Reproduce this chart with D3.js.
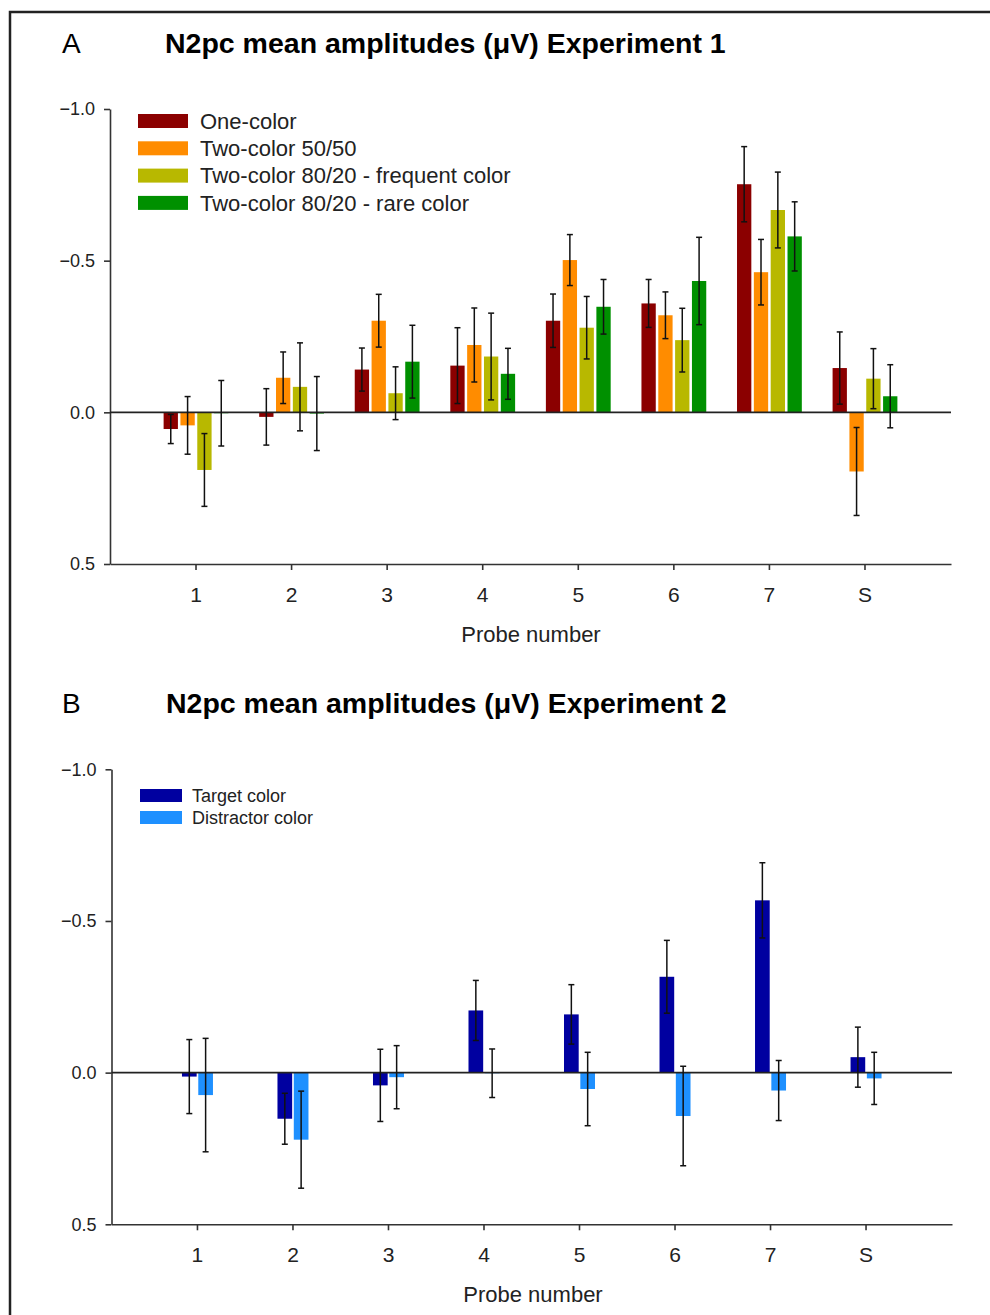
<!DOCTYPE html>
<html>
<head>
<meta charset="utf-8">
<script src="https://cdn.jsdelivr.net/npm/d3@7"></script>
<style>
  body { margin: 0; background: #fff; }
  svg { display: block; font-family: "Liberation Sans", Arial, sans-serif; }
</style>
</head>
<body>
<svg id="chart" width="990" height="1315"></svg>
<script>
// Probe categories (x axis)
var probes = ["1", "2", "3", "4", "5", "6", "7", "S"];
var yTicks = [-1.0, -0.5, 0.0, 0.5];

// Experiment 1 series
var exp1Series = ["One-color", "Two-color 50/50", "Two-color 80/20 - frequent color", "Two-color 80/20 - rare color"];
var oneColor = [0.055, 0.015, -0.141, -0.154, -0.302, -0.359, -0.752, -0.146];
var oneColorErr = [0.048, 0.093, 0.071, 0.125, 0.088, 0.079, 0.124, 0.119];
var twoColor5050 = [0.043, -0.114, -0.302, -0.222, -0.502, -0.320, -0.462, 0.195];
var twoColor5050Err = [0.095, 0.085, 0.087, 0.122, 0.084, 0.077, 0.108, 0.145];
var frequentColor = [0.190, -0.084, -0.063, -0.184, -0.279, -0.238, -0.667, -0.111];
var frequentColorErr = [0.120, 0.145, 0.087, 0.143, 0.103, 0.105, 0.125, 0.099];
var rareColor = [0.003, 0.004, -0.167, -0.127, -0.348, -0.433, -0.580, -0.053];
var rareColorErr = [0.108, 0.122, 0.120, 0.084, 0.090, 0.144, 0.114, 0.104];

// Experiment 2 series
var exp2Series = ["Target color", "Distractor color"];
var targetColor = [0.013, 0.152, 0.042, -0.205, -0.192, -0.316, -0.568, -0.051];
var targetColorErr = [0.122, 0.084, 0.119, 0.099, 0.098, 0.120, 0.124, 0.099];
var distractorColor = [0.074, 0.221, 0.015, 0.002, 0.054, 0.143, 0.059, 0.019];
var distractorColorErr = [0.187, 0.160, 0.104, 0.080, 0.121, 0.164, 0.099, 0.086];

var exp1Colors = ["#8b0000", "#ff8c00", "#b8b800", "#009000"];
var exp2Colors = ["#0000a0", "#1e90ff"];

var svg = d3.select("#chart");

// outer frame
svg.append("rect")
    .attr("x", 10).attr("y", 12)
    .attr("width", 1100).attr("height", 1400)
    .attr("fill", "none")
    .attr("stroke", "#222")
    .attr("stroke-width", 2.5);

function drawPanel(cfg) {
    var g = svg.append("g");

    var x = d3.scaleBand()
        .domain(probes)
        .range([cfg.left, cfg.right])
        .paddingInner(0)
        .paddingOuter(0.4);

    var y = d3.scaleLinear()
        .domain([-1.0, 0.5])
        .range([cfg.top, cfg.bottom]);

    var sub = d3.scaleBand()
        .domain(cfg.series)
        .range([-cfg.groupHalf, cfg.groupHalf])
        .paddingInner(cfg.barPad);

    // panel letter and title
    g.append("text")
        .attr("x", 62).attr("y", cfg.titleY)
        .attr("font-size", 28)
        .text(cfg.letter);
    g.append("text")
        .attr("x", cfg.titleX).attr("y", cfg.titleY)
        .attr("font-size", 28.5)
        .attr("font-weight", "bold")
        .text(cfg.title);

    // flatten data into bar records
    var bars = [];
    cfg.series.forEach(function(name, si) {
        probes.forEach(function(p, pi) {
            bars.push({
                probe: p,
                series: name,
                color: cfg.colors[si],
                value: cfg.values[si][pi],
                err: cfg.errors[si][pi]
            });
        });
    });

    g.selectAll("rect.bar")
        .data(bars)
        .enter()
        .append("rect")
        .attr("class", "bar")
        .attr("x", function(d) { return x(d.probe) + x.bandwidth() / 2 + sub(d.series); })
        .attr("width", sub.bandwidth())
        .attr("y", function(d) { return Math.min(y(d.value), y(0)); })
        .attr("height", function(d) { return Math.abs(y(d.value) - y(0)); })
        .attr("fill", function(d) { return d.color; });

    // y axis
    var yAxis = g.append("g")
        .attr("transform", "translate(" + cfg.left + ",0)")
        .call(d3.axisLeft(y).tickValues(yTicks).tickFormat(d3.format(".1f")).tickSize(6).tickSizeOuter(0).tickPadding(9));
    yAxis.selectAll("text").attr("font-size", 18).attr("fill", "#222");

    // x axis
    var xAxis = g.append("g")
        .attr("transform", "translate(0," + cfg.bottom + ")")
        .call(d3.axisBottom(x).tickSize(6).tickSizeOuter(0).tickPadding(17));
    xAxis.selectAll("text").attr("font-size", 21).attr("fill", "#222");

    [yAxis, xAxis].forEach(function(a) {
        a.attr("font-family", null);
        a.selectAll("path, line").attr("stroke", "#333").attr("stroke-width", 1.6);
    });

    // zero line
    g.append("line")
        .attr("x1", cfg.left).attr("x2", cfg.right)
        .attr("y1", y(0)).attr("y2", y(0))
        .attr("stroke", "#222")
        .attr("stroke-width", 1.6);

    // error bars
    var eb = g.selectAll("g.err")
        .data(bars)
        .enter()
        .append("g")
        .attr("class", "err")
        .attr("transform", function(d) {
            return "translate(" + (x(d.probe) + x.bandwidth() / 2 + sub(d.series) + sub.bandwidth() / 2) + ",0)";
        })
        .attr("stroke", "#111")
        .attr("stroke-width", 1.5);
    eb.append("line")
        .attr("y1", function(d) { return y(d.value - d.err); })
        .attr("y2", function(d) { return y(d.value + d.err); });
    eb.append("line")
        .attr("x1", -3).attr("x2", 3)
        .attr("y1", function(d) { return y(d.value - d.err); })
        .attr("y2", function(d) { return y(d.value - d.err); });
    eb.append("line")
        .attr("x1", -3).attr("x2", 3)
        .attr("y1", function(d) { return y(d.value + d.err); })
        .attr("y2", function(d) { return y(d.value + d.err); });

    // x axis title
    g.append("text")
        .attr("x", cfg.labelX).attr("y", cfg.bottom + 78)
        .attr("text-anchor", "middle")
        .attr("font-size", 22)
        .attr("fill", "#222")
        .text("Probe number");

    // legend
    var leg = g.selectAll("g.legend")
        .data(cfg.series)
        .enter()
        .append("g")
        .attr("class", "legend")
        .attr("transform", function(d, i) {
            return "translate(" + cfg.legX + "," + (cfg.legY + i * cfg.legStep) + ")";
        });
    leg.append("rect")
        .attr("width", cfg.swW).attr("height", cfg.swH)
        .attr("fill", function(d, i) { return cfg.colors[i]; });
    leg.append("text")
        .attr("x", cfg.legTextX)
        .attr("y", cfg.swH / 2)
        .attr("dy", "0.35em")
        .attr("font-size", cfg.legFont)
        .attr("fill", "#222")
        .text(function(d) { return d; });
}

drawPanel({
    letter: "A",
    title: "N2pc mean amplitudes (\u03bcV) Experiment 1",
    titleX: 165, titleY: 53,
    left: 110, right: 951, top: 109, bottom: 564,
    series: exp1Series,
    colors: exp1Colors,
    values: [oneColor, twoColor5050, frequentColor, rareColor],
    errors: [oneColorErr, twoColor5050Err, frequentColorErr, rareColorErr],
    groupHalf: 32.4, barPad: 0.15,
    labelX: 531,
    legX: 138, legY: 114, legStep: 27.3, swW: 50, swH: 14, legTextX: 62, legFont: 22
});

drawPanel({
    letter: "B",
    title: "N2pc mean amplitudes (\u03bcV) Experiment 2",
    titleX: 166, titleY: 713,
    left: 111.5, right: 952, top: 769.3, bottom: 1224.3,
    series: exp2Series,
    colors: exp2Colors,
    values: [targetColor, distractorColor],
    errors: [targetColorErr, distractorColorErr],
    groupHalf: 15.5, barPad: 0.1,
    labelX: 533,
    legX: 140, legY: 789, legStep: 22, swW: 42, swH: 13, legTextX: 52, legFont: 18
});
</script>
</body>
</html>
